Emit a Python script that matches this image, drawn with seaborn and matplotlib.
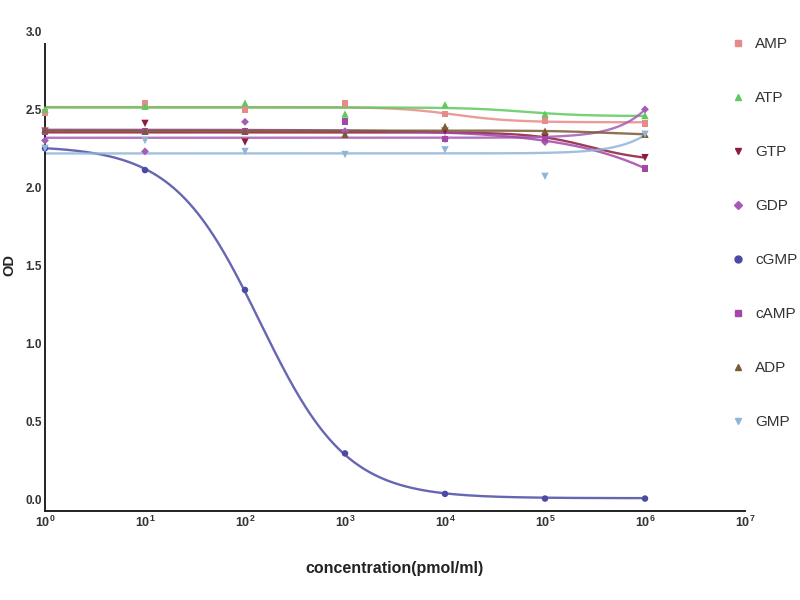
import numpy as np
import pandas as pd
import seaborn as sns
import matplotlib.pyplot as plt
from matplotlib.lines import Line2D
from matplotlib.ticker import FixedLocator, LogLocator, NullFormatter, LogFormatterSciNotation
from matplotlib.transforms import ScaledTranslation

# concentrations (pmol/ml) and OD readings per compound
concentration = [1, 10, 100, 1000, 10000, 100000, 1000000]
amp = [2.56, 2.62, 2.58, 2.62, 2.55, 2.51, 2.49]
atp = [2.58, 2.60, 2.62, 2.55, 2.61, 2.55, 2.54]
gtp = [2.44, 2.49, 2.37, 2.42, 2.44, 2.40, 2.27]
gdp = [2.38, 2.31, 2.50, 2.44, 2.39, 2.37, 2.58]
cgmp = [2.33, 2.19, 1.42, 0.37, 0.11, 0.08, 0.08]
camp = [2.44, 2.44, 2.44, 2.50, 2.39, 2.39, 2.20]
adp = [2.45, 2.44, 2.44, 2.42, 2.47, 2.44, 2.42]
gmp = [2.33, 2.38, 2.31, 2.29, 2.32, 2.15, 2.42]

names = ['AMP', 'ATP', 'GTP', 'GDP', 'cGMP', 'cAMP', 'ADP', 'GMP']
series = [amp, atp, gtp, gdp, cgmp, camp, adp, gmp]
colors = ['#e98a8a', '#5fc95f', '#8c1c3c', '#a65cb4', '#4b4ba6', '#a447a8', '#7b5b32', '#8fb6d8']
markers = ['s', '^', 'v', 'D', 'o', 's', '^', 'v']
msizes = [24, 28, 28, 16, 22, 24, 28, 28]

y_ticks = [0, 0.5, 1.0, 1.5, 2.0, 2.5, 3.0]
x_ticks = [1, 10, 100, 1e3, 1e4, 1e5, 1e6, 1e7]


def fit_4pl(logx, y):
    # grid search for a four parameter logistic, top/bottom solved linearly
    cs = np.linspace(0.0, 7.5, 151)
    hs = np.geomspace(0.3, 1.5, 25)
    hs = np.concatenate([-hs, hs])
    C, H = np.meshgrid(cs, hs)
    C = C.ravel()[:, None]
    H = H.ravel()[:, None]
    s = 1.0 / (1.0 + 10 ** ((logx[None, :] - C) * H))
    sm = s.mean(axis=1, keepdims=True)
    ym = y.mean()
    var = ((s - sm) ** 2).sum(axis=1)
    cov = ((s - sm) * (y - ym)).sum(axis=1)
    a1 = np.where(var > 1e-12, cov / np.maximum(var, 1e-12), 0.0)
    a0 = ym - a1 * sm[:, 0]
    pred = a0[:, None] + a1[:, None] * s
    sse = ((pred - y) ** 2).sum(axis=1)
    i = np.argmin(sse)
    return a0[i], a1[i], C[i, 0], H[i, 0]


def build_frames():
    logx = np.log10(np.array(concentration, dtype=float))
    grid = np.linspace(logx.min(), logx.max(), 300)
    points, curves = [], []
    for name, vals in zip(names, series):
        y = np.array(vals, dtype=float)
        a0, a1, c, h = fit_4pl(logx, y)
        fy = a0 + a1 / (1.0 + 10 ** ((grid - c) * h))
        points.append(pd.DataFrame({'conc': concentration, 'od': vals, 'compound': name}))
        curves.append(pd.DataFrame({'conc': 10 ** grid, 'od': fy, 'compound': name}))
    return pd.concat(points), pd.concat(curves)


def make_plot():
    sns.set_style('white')
    plt.rcParams['font.family'] = ['Liberation Sans', 'DejaVu Sans']
    pts, fits = build_frames()
    palette = dict(zip(names, colors))

    fig = plt.figure(figsize=(8, 6), dpi=100)
    ax = fig.add_axes([0.05625, 0.1483, 0.875, 0.7784])

    sns.lineplot(data=fits, x='conc', y='od', hue='compound', palette=palette,
                 linewidth=1.7, alpha=0.85, legend=False, ax=ax, sort=False)
    for name, mk, ms in zip(names, markers, msizes):
        sub = pts[pts['compound'] == name]
        sns.scatterplot(data=sub, x='conc', y='od', color=palette[name], marker=mk,
                        s=ms, edgecolor='none', legend=False, ax=ax, zorder=3, clip_on=False)

    ax.set_xscale('log')
    ax.set_xlim(1, 1e7)
    ax.set_ylim(0, 3.0)
    ax.xaxis.set_major_locator(FixedLocator(x_ticks))
    ax.xaxis.set_major_formatter(LogFormatterSciNotation())
    ax.xaxis.set_minor_locator(LogLocator(base=10, subs=np.arange(2, 10), numticks=10))
    ax.xaxis.set_minor_formatter(NullFormatter())
    ax.set_yticks(y_ticks)
    ax.set_yticklabels(['%.1f' % v for v in y_ticks])

    for side in ['top', 'right']:
        ax.spines[side].set_visible(False)
    for side in ['left', 'bottom']:
        ax.spines[side].set_linewidth(1.4)
        ax.spines[side].set_color('#222222')

    ax.tick_params(axis='both', which='major', direction='in', length=4, width=1.1,
                   labelcolor='#333333', color='#222222')
    ax.tick_params(axis='x', which='major', labelsize=9, pad=3)
    ax.tick_params(axis='y', which='major', labelsize=8.5, pad=2)
    ax.tick_params(axis='x', which='minor', direction='in', length=2.5, width=0.9, color='#222222')

    # tick labels on y sit a little above their ticks in the original
    shift = ScaledTranslation(0, 12 / 100, fig.dpi_scale_trans)
    for lab in ax.get_yticklabels():
        lab.set_transform(lab.get_transform() + shift)
        lab.set_fontweight('bold')
    for lab in ax.get_xticklabels():
        lab.set_fontweight('bold')

    ax.set_xlabel('concentration(pmol/ml)', fontsize=11.5, fontweight='bold', labelpad=22, color='#222222')
    ax.set_ylabel('OD', fontsize=10.5, fontweight='bold', color='#222222')
    ax.yaxis.set_label_coords(-0.041, 0.527)

    handles = [Line2D([0], [0], linestyle='none', marker=mk, color=c, markersize=5 if mk != 'D' else 3.8)
               for mk, c in zip(markers, colors)]
    fig.legend(handles, names, loc='upper left', bbox_to_anchor=(0.904, 0.951), frameon=False,
               fontsize=11, labelspacing=2.62, handlelength=1.0, handletextpad=0.6, borderpad=0,
               labelcolor='#333333')

    fig.savefig('out.png', dpi=100)
    return fig, ax


make_plot()
